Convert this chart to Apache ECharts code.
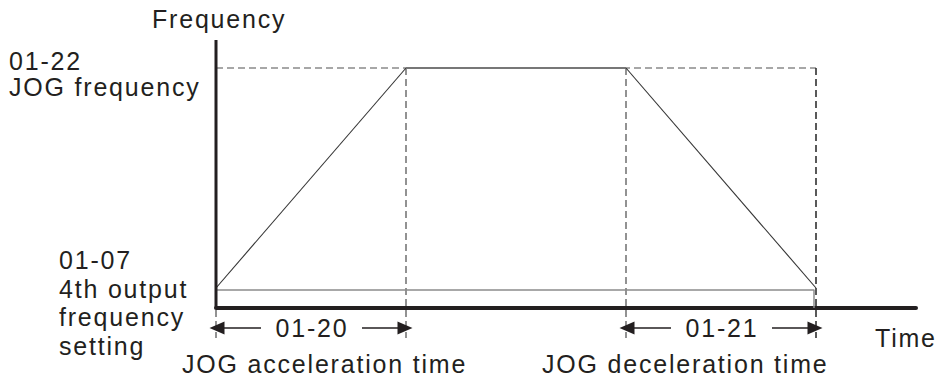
<!DOCTYPE html>
<html>
<head>
<meta charset="utf-8">
<script src="https://cdn.jsdelivr.net/npm/echarts@6/dist/echarts.min.js"></script>
<style>
  html, body { margin: 0; padding: 0; background: #fff; }
  #chart { width: 936px; height: 379px; }
  #chart text { letter-spacing: 1.8px; }
</style>
</head>
<body>
<div id="chart"></div>
<script>
// ---- data (time units: 10 px each; frequency units: 1 px each) ----
const profileT = [0, 19, 41, 60];          // start, accel end, decel start, decel end
const profileF = [20, 240, 240, 20];       // 01-07 level -> 01-22 JOG freq -> 01-07 level
const levelT   = [0, 59.4, 59.8, 59.8];    // 4th output frequency setting line
const levelF   = [18, 18, 18, 0];
const jogTopT  = [0, 60];                  // dashed JOG frequency reference
const jogTopF  = [240, 240];
const markerT  = [0, 19, 41, 60];          // dashed time markers
const markerTop = [-2, 240, 240, 240];
const markerBottom = -30;
const arrowY = -20;
const spans = [                             // [start, end, label]
  [0, 19, '01-20'],
  [41, 60, '01-21']
];
const axisMinF = -40, axisMaxT = 70, axisMaxF = 268;
const leftLabels = [
  { text: '01-22', x: 9, y: 61 },
  { text: 'JOG frequency', x: 9, y: 87 },
  { text: '01-07', x: 59, y: 260 },
  { text: '4th output', x: 59, y: 289 },
  { text: 'frequency', x: 59, y: 317 },
  { text: 'setting', x: 59, y: 346 }
];
const axisTitles = [
  { text: 'Frequency', x: 152, y: 19 },
  { text: 'Time', x: 875, y: 338 }
];
const bottomLabels = [
  { text: 'JOG acceleration time', x: 182, y: 364 },
  { text: 'JOG deceleration time', x: 542, y: 364 }
];

const FONT = '25px "Liberation Sans", Arial, sans-serif';
const INK = '#231f20';

const chart = echarts.init(document.getElementById('chart'), null, { renderer: 'svg' });

function xy(ts, fs) { return ts.map((t, i) => [t, fs[i]]); }

const series = [];
// dashed top line
series.push({
  type: 'line', data: xy(jogTopT, jogTopF), symbol: 'none', silent: true,
  lineStyle: { color: '#8a8a8a', width: 1.6, type: [7, 4] }, z: 1
});
// dashed vertical markers
markerT.forEach((t, i) => {
  series.push({
    type: 'line', data: [[t, markerTop[i]], [t, markerBottom]], symbol: 'none', silent: true,
    lineStyle: { color: i === 3 ? '#222' : '#6e6e6e', width: 1.5, type: [7, 4] }, z: 1
  });
});
// frequency axis (drawn from 0 upward)
series.push({
  type: 'line', data: [[0, 0], [0, axisMaxF]], symbol: 'none', silent: true,
  lineStyle: { color: INK, width: 3 }, z: 5
});
// 4th output frequency level line
series.push({
  type: 'line', data: xy(levelT, levelF), symbol: 'none', silent: true,
  lineStyle: { color: '#8c8c8c', width: 1.5 }, z: 2
});
// JOG profile: slopes and top
series.push({
  type: 'line', data: [[profileT[0], profileF[0]], [profileT[1], profileF[1]]], symbol: 'none', silent: true,
  lineStyle: { color: '#333', width: 1.1 }, z: 3
});
series.push({
  type: 'line', data: [[profileT[1], profileF[1]], [profileT[2], profileF[2]]], symbol: 'none', silent: true,
  lineStyle: { color: '#777', width: 2 }, z: 3
});
series.push({
  type: 'line', data: [[profileT[2], profileF[2]], [profileT[3], profileF[3]]], symbol: 'none', silent: true,
  lineStyle: { color: '#333', width: 1.1 }, z: 3
});
// span arrows
spans.forEach(([a, b]) => {
  series.push({
    type: 'line', data: [[a, arrowY], [b, arrowY]], symbol: 'none', silent: true,
    lineStyle: { width: 0, opacity: 0 },
    markLine: {
      silent: true, animation: false,
      lineStyle: { color: INK, width: 1.5, type: 'solid' },
      label: { show: false },
      symbolSize: [13, 15],
      data: [
        [{ coord: [a + 0.1, arrowY], symbol: 'triangle' }, { coord: [a + 4.5, arrowY], symbol: 'none' }],
        [{ coord: [b - 4.4, arrowY], symbol: 'none' }, { coord: [b - 0.1, arrowY], symbol: 'triangle' }]
      ]
    }
  });
});

const option = {
  animation: false,
  backgroundColor: '#fff',
  grid: { left: 216, top: 40, width: 700, height: axisMaxF - axisMinF },
  xAxis: {
    type: 'value', min: 0, max: axisMaxT,
    axisLine: { show: true, onZero: true, lineStyle: { color: INK, width: 4 } },
    axisTick: { show: false }, axisLabel: { show: false }, splitLine: { show: false }
  },
  yAxis: {
    type: 'value', min: axisMinF, max: axisMaxF,
    axisLine: { show: false },
    axisTick: { show: false }, axisLabel: { show: false }, splitLine: { show: false }
  },
  series: series
};
chart.setOption(option);

const graphics = [];
[...leftLabels, ...axisTitles, ...bottomLabels].forEach(l => {
  graphics.push({
    type: 'text', x: l.x, y: l.y, silent: true,
    style: { text: l.text, font: FONT, fill: INK, textAlign: 'left', textVerticalAlign: 'middle' }
  });
});
spans.forEach(([a, b, label]) => {
  const p = chart.convertToPixel({ gridIndex: 0 }, [(a + b) / 2, arrowY]);
  graphics.push({
    type: 'text', x: p[0] + 1, y: p[1], silent: true,
    style: { text: label, font: FONT, fill: INK, textAlign: 'center', textVerticalAlign: 'middle' }
  });
});
chart.setOption({ graphic: graphics });
</script>
</body>
</html>
